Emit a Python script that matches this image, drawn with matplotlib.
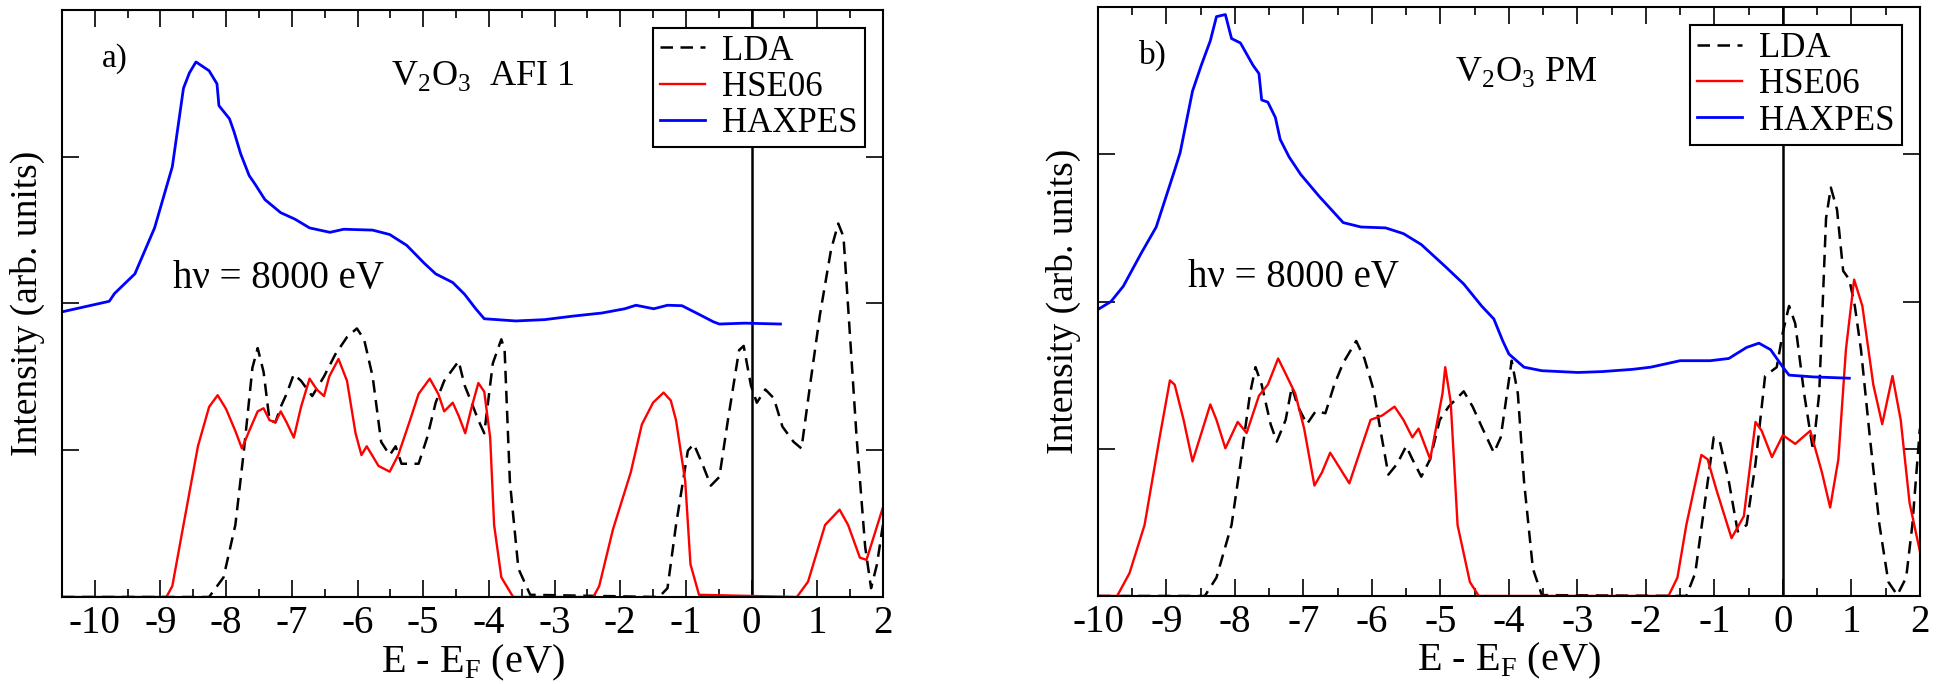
import matplotlib
matplotlib.use("Agg")
import matplotlib.pyplot as plt

plt.rcParams['font.family'] = ['Liberation Serif', 'DejaVu Serif']
plt.rcParams['mathtext.fontset'] = 'custom'
plt.rcParams['mathtext.rm'] = 'Liberation Serif'
plt.rcParams['axes.unicode_minus'] = False

# ---- panel a) V2O3 AFI 1 ----
a_haxpes_x = [-10.5, -9.78, -9.70, -9.39, -9.09, -8.82, -8.65, -8.56, -8.46, -8.26, -8.14, -8.11,
              -7.95, -7.88, -7.78, -7.65, -7.56, -7.41, -7.17, -6.95, -6.73, -6.42, -6.21, -5.77,
              -5.51, -5.25, -4.99, -4.81, -4.55, -4.37, -4.20, -4.07, -3.59, -3.15, -2.72, -2.28,
              -1.93, -1.76, -1.49, -1.28, -1.06, -0.80, -0.58, -0.49, -0.10, 0.44]
a_haxpes_y = [1.943, 2.015, 2.068, 2.202, 2.515, 2.932, 3.467, 3.571, 3.646, 3.586, 3.497, 3.348,
              3.259, 3.170, 3.021, 2.872, 2.813, 2.708, 2.619, 2.574, 2.515, 2.485, 2.506, 2.500,
              2.470, 2.396, 2.277, 2.202, 2.143, 2.063, 1.964, 1.896, 1.881, 1.890, 1.914, 1.935,
              1.964, 1.988, 1.964, 1.988, 1.985, 1.926, 1.875, 1.860, 1.866, 1.860]

a_hse_x = [-10.5, -8.91, -8.82, -8.65, -8.43, -8.26, -8.13, -8.00, -7.86, -7.76, -7.65, -7.52,
           -7.43, -7.34, -7.25, -7.17, -7.08, -6.97, -6.86, -6.73, -6.62, -6.51, -6.43, -6.29,
           -6.16, -6.03, -5.94, -5.86, -5.68, -5.51, -5.38, -5.20, -5.07, -4.90, -4.77, -4.68,
           -4.55, -4.46, -4.36, -4.27, -4.16, -4.07, -3.98, -3.92, -3.81, -3.63, -2.41, -2.32,
           -2.11, -1.84, -1.67, -1.50, -1.34, -1.23, -1.15, -1.01, -0.93, -0.80, 0.69, 0.86,
           1.12, 1.34, 1.47, 1.65, 1.75, 2.0]
a_hse_y = [0, 0, 0.074, 0.491, 1.027, 1.295, 1.375, 1.280, 1.131, 1.012, 1.131, 1.265,
           1.286, 1.205, 1.190, 1.265, 1.190, 1.086, 1.295, 1.488, 1.414, 1.369, 1.503, 1.622,
           1.473, 1.116, 0.967, 1.027, 0.893, 0.854, 0.967, 1.205, 1.384, 1.488, 1.384, 1.265,
           1.324, 1.235, 1.116, 1.280, 1.458, 1.399, 1.086, 0.491, 0.134, 0, 0, 0.074,
           0.461, 0.848, 1.176, 1.324, 1.393, 1.339, 1.205, 0.789, 0.223, 0.015, 0, 0.104,
           0.491, 0.595, 0.491, 0.268, 0.253, 0.610]

a_lda_x = [-10.5, -8.26, -8.04, -7.86, -7.73, -7.60, -7.52, -7.43, -7.34, -7.25, -7.17, -7.08,
           -6.97, -6.86, -6.69, -6.51, -6.34, -6.16, -6.01, -5.90, -5.77, -5.64, -5.51, -5.42,
           -5.33, -5.07, -4.94, -4.81, -4.68, -4.46, -4.37, -4.29, -4.16, -4.07, -3.94, -3.81,
           -3.76, -3.68, -3.55, -3.37, -1.41, -1.28, -1.15, -0.97, -0.88, -0.75, -0.62, -0.49,
           -0.36, -0.19, -0.12, -0.01, 0.08, 0.21, 0.34, 0.47, 0.64, 0.76, 0.90, 1.04,
           1.21, 1.32, 1.40, 1.47, 1.60, 1.73, 1.82, 1.91, 2.0]
a_lda_y = [0, 0, 0.134, 0.491, 0.997, 1.563, 1.696, 1.533, 1.205, 1.190, 1.295, 1.384,
           1.518, 1.473, 1.369, 1.503, 1.652, 1.771, 1.830, 1.756, 1.503, 1.057, 0.967, 1.027,
           0.908, 0.908, 1.086, 1.324, 1.473, 1.607, 1.443, 1.354, 1.205, 1.116, 1.592, 1.756,
           1.682, 0.789, 0.193, 0.015, 0, 0.060, 0.491, 0.997, 1.042, 0.908, 0.759, 0.818,
           1.205, 1.682, 1.711, 1.443, 1.324, 1.414, 1.354, 1.161, 1.057, 1.012, 1.473, 1.920,
           2.366, 2.545, 2.455, 1.979, 1.086, 0.342, 0.060, 0.223, 0.491]

# ---- panel b) V2O3 PM ----
b_haxpes_x = [-10.0, -9.81, -9.63, -9.37, -9.15, -8.88, -8.80, -8.62, -8.49, -8.36, -8.27, -8.14,
              -8.05, -7.92, -7.74, -7.65, -7.61, -7.52, -7.41, -7.34, -7.21, -7.04, -6.77, -6.42,
              -6.16, -5.80, -5.54, -5.28, -4.93, -4.66, -4.40, -4.22, -4.09, -4.00, -3.78, -3.52,
              -2.99, -2.64, -2.20, -1.93, -1.50, -1.06, -0.79, -0.53, -0.35, -0.18, 0.0, 0.09,
              0.44, 0.97]
b_haxpes_y = [1.946, 2.000, 2.104, 2.327, 2.506, 2.893, 3.012, 3.429, 3.607, 3.771, 3.935, 3.949,
              3.786, 3.756, 3.607, 3.548, 3.369, 3.354, 3.250, 3.101, 2.982, 2.863, 2.714, 2.536,
              2.506, 2.500, 2.461, 2.387, 2.238, 2.119, 1.970, 1.881, 1.732, 1.643, 1.554, 1.530,
              1.518, 1.524, 1.539, 1.554, 1.598, 1.598, 1.613, 1.688, 1.717, 1.673, 1.554, 1.500,
              1.488, 1.479]

b_hse_x = [-10.0, -9.72, -9.54, -9.32, -9.10, -8.95, -8.88, -8.75, -8.62, -8.49, -8.36, -8.27,
           -8.14, -7.96, -7.83, -7.65, -7.52, -7.37, -7.26, -7.12, -6.99, -6.84, -6.73, -6.61,
           -6.51, -6.33, -6.17, -6.02, -5.85, -5.67, -5.54, -5.41, -5.32, -5.15, -4.97, -4.93,
           -4.85, -4.75, -4.57, -4.44, -1.67, -1.54, -1.41, -1.19, -1.10, -0.97, -0.75, -0.57,
           -0.40, -0.31, -0.16, 0.0, 0.18, 0.40, 0.57, 0.69, 0.81, 0.92, 1.04, 1.16,
           1.32, 1.45, 1.60, 1.72, 1.85, 2.0]
b_hse_y = [0, 0, 0.155, 0.482, 1.077, 1.464, 1.435, 1.196, 0.914, 1.107, 1.301, 1.196,
           1.003, 1.182, 1.107, 1.360, 1.435, 1.613, 1.509, 1.375, 1.137, 0.750, 0.839, 0.973,
           0.899, 0.765, 0.988, 1.196, 1.226, 1.286, 1.196, 1.077, 1.137, 0.929, 1.375, 1.554,
           1.315, 0.482, 0.095, 0, 0, 0.125, 0.482, 0.958, 0.929, 0.720, 0.393, 0.542,
           1.182, 1.122, 0.943, 1.092, 1.033, 1.122, 0.839, 0.601, 0.929, 1.673, 2.149, 1.970,
           1.435, 1.167, 1.494, 1.196, 0.631, 0.304]

b_lda_x = [-10.0, -8.44, -8.27, -8.05, -7.92, -7.78, -7.70, -7.61, -7.48, -7.39, -7.26, -7.17,
           -7.08, -6.95, -6.82, -6.68, -6.55, -6.42, -6.23, -6.11, -5.98, -5.88, -5.76, -5.63,
           -5.50, -5.41, -5.28, -5.15, -5.01, -4.88, -4.66, -4.53, -4.40, -4.22, -4.12, -3.96,
           -3.87, -3.78, -3.65, -3.52, -1.41, -1.28, -1.14, -1.01, -0.92, -0.79, -0.66, -0.53,
           -0.40, -0.26, -0.09, 0.0, 0.09, 0.18, 0.31, 0.44, 0.53, 0.63, 0.70, 0.79,
           0.88, 0.97, 1.05, 1.14, 1.27, 1.41, 1.54, 1.67, 1.80, 1.89, 2.0]
b_lda_y = [0, 0, 0.125, 0.482, 0.899, 1.375, 1.554, 1.435, 1.167, 1.048, 1.196, 1.420,
           1.286, 1.167, 1.256, 1.241, 1.435, 1.583, 1.732, 1.613, 1.405, 1.137, 0.824, 0.899,
           1.018, 0.929, 0.810, 0.929, 1.196, 1.286, 1.390, 1.286, 1.152, 0.973, 1.077, 1.598,
           1.375, 0.780, 0.185, 0.006, 0, 0.155, 0.631, 1.077, 1.048, 0.780, 0.438, 0.482,
           0.899, 1.494, 1.554, 1.792, 1.970, 1.851, 1.375, 0.988, 1.375, 2.565, 2.774, 2.625,
           2.208, 2.149, 1.970, 1.673, 1.077, 0.482, 0.095, 0.006, 0.125, 0.482, 1.137]

xticks = [-10, -9, -8, -7, -6, -5, -4, -3, -2, -1, 0, 1, 2]
xtick_labels = [str(t) for t in xticks]


def draw_panel(ax, xlim, lda, hse, haxpes, tag, title, title_xy, tag_xy, hv_xy):
    ax.plot(*lda, color='black', lw=1.8, ls=(0, (5, 3)), label='LDA')
    ax.plot(*hse, color='#ff0000', lw=1.7, label='HSE06')
    ax.plot(*haxpes, color='#0000ff', lw=2.0, label='HAXPES')
    ax.axvline(0, color='black', lw=1.8, zorder=0)

    ax.set_xlim(*xlim)
    ax.set_ylim(0, 4)
    ax.set_xticks(xticks)
    ax.set_xticklabels(xtick_labels)
    ax.set_xticks([t + 0.5 for t in range(-11, 2) if xlim[0] < t + 0.5 < xlim[1]], minor=True)
    ax.set_yticks([1, 2, 3])
    ax.set_yticklabels([])
    ax.tick_params(which='both', direction='in', top=True, right=True, labelsize=28, width=1.2)
    ax.tick_params(which='major', length=12, pad=6)
    ax.tick_params(which='minor', length=6)
    for s in ax.spines.values():
        s.set_linewidth(1.5)

    ax.set_xlabel('E - E$_{\\mathregular{F}}$ (eV)', fontsize=29, labelpad=0)
    ax.set_ylabel('Intensity (arb. units)', fontsize=27, labelpad=6)

    ax.text(*tag_xy, tag, fontsize=24, ha='center', va='center')
    ax.text(*title_xy, title, fontsize=26, ha='center', va='center')
    ax.text(*hv_xy, 'h\u03bd = 8000 eV', fontsize=28, ha='center', va='center')

    leg = ax.legend(loc='upper right', bbox_to_anchor=(0.978, 0.97), borderaxespad=0,
                    fontsize=25, fancybox=False, edgecolor='black', framealpha=1,
                    handlelength=1.3, handletextpad=0.5, labelspacing=0.1, borderpad=0.2)
    leg.get_frame().set_linewidth(1.5)


fig = plt.figure(figsize=(19.43, 6.84), dpi=100)
ax1 = fig.add_axes([0.0319, 0.1272, 0.4225, 0.8582])
ax2 = fig.add_axes([0.5651, 0.1287, 0.4230, 0.8610])

draw_panel(ax1, (-10.5, 2), (a_lda_x, a_lda_y), (a_hse_x, a_hse_y), (a_haxpes_x, a_haxpes_y),
           'a)', 'V$_{\\mathregular{2}}$O$_{\\mathregular{3}}$  AFI 1', (-4.1, 3.55), (-9.7, 3.67), (-7.2, 2.17))
draw_panel(ax2, (-10, 2), (b_lda_x, b_lda_y), (b_hse_x, b_hse_y), (b_haxpes_x, b_haxpes_y),
           'b)', 'V$_{\\mathregular{2}}$O$_{\\mathregular{3}}$ PM', (-3.75, 3.56), (-9.2, 3.67), (-7.15, 2.16))

fig.savefig('out.png', dpi=100)
